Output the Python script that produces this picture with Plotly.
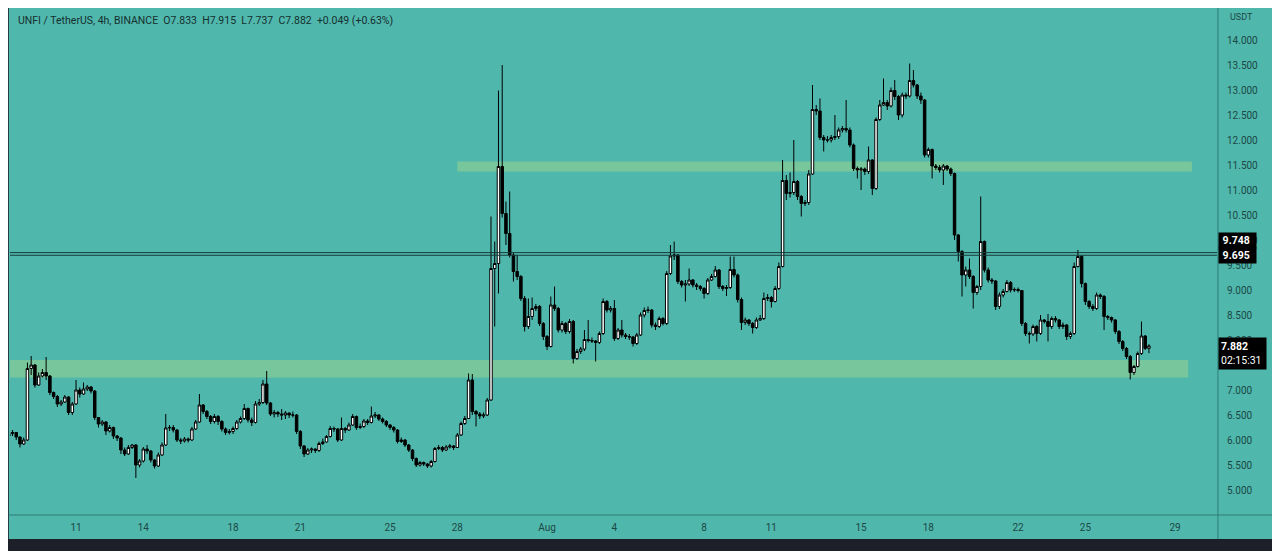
import pandas as pd
import plotly.graph_objects as go

# UNFI/USDT 4h candles, Jul 8 -> Aug 27
start = "2021-07-08 00:00"

opens = [
    6.08, 6.13, 6.15, 6.06, 5.92, 6.00, 7.43, 7.50, 7.10, 7.28, 7.35, 7.28,
    6.95, 6.87, 6.72, 6.76, 6.86, 6.55, 6.72, 7.00, 6.92, 7.02, 7.06, 6.98,
    6.45, 6.32, 6.36, 6.18, 6.25, 6.08, 6.04, 5.80, 5.72, 5.85, 5.90, 5.50,
    5.58, 5.82, 5.78, 5.60, 5.48, 5.70, 5.90, 6.24, 6.25, 6.20, 6.00, 5.98,
    6.02, 6.00, 6.22, 6.36, 6.70, 6.57, 6.47, 6.37, 6.47, 6.37, 6.22, 6.15,
    6.17, 6.23, 6.36, 6.43, 6.63, 6.40, 6.35, 6.72, 6.75, 7.12, 6.74, 6.52,
    6.55, 6.52, 6.50, 6.54, 6.50, 6.50, 6.17, 5.88, 5.72, 5.80, 5.82, 5.79,
    5.93, 5.96, 6.07, 6.23, 6.22, 6.00, 6.23, 6.20, 6.30, 6.47, 6.25, 6.27,
    6.38, 6.35, 6.48, 6.50, 6.42, 6.37, 6.30, 6.25, 6.20, 5.97, 6.00, 5.90,
    5.80, 5.63, 5.50, 5.55, 5.52, 5.48, 5.57, 5.83, 5.85, 5.80, 5.86, 5.88,
    5.85, 6.10, 6.33, 6.43, 7.20, 6.57, 6.52, 6.48, 6.50, 6.80, 9.43, 9.53,
    11.47, 10.53, 10.13, 9.70, 9.37, 9.27, 8.83, 8.27, 8.47, 8.63, 8.67, 8.33,
    8.07, 7.87, 8.70, 8.63, 8.20, 8.33, 8.17, 8.37, 7.63, 7.77, 7.82, 8.01,
    7.99, 7.98, 7.95, 8.13, 8.77, 8.60, 8.63, 8.03, 8.20, 8.10, 8.07, 8.06,
    7.93, 8.10, 8.50, 8.59, 8.60, 8.30, 8.27, 8.43, 8.33, 9.33, 9.68, 9.70,
    9.17, 9.10, 9.12, 9.20, 9.10, 9.07, 9.03, 8.93, 9.20, 9.27, 9.40, 9.07,
    9.03, 9.05, 9.41, 9.30, 8.81, 8.35, 8.40, 8.33, 8.25, 8.40, 8.43, 8.83,
    8.85, 8.77, 9.03, 9.47, 11.19, 10.93, 10.95, 11.17, 10.87, 10.73, 10.75, 11.32,
    12.61, 12.58, 12.05, 12.00, 12.00, 12.05, 12.07, 12.20, 12.23, 12.20, 11.90, 11.43,
    11.40, 11.42, 11.37, 11.60, 11.03, 12.41, 12.70, 12.75, 12.68, 12.99, 12.87, 12.50,
    12.90, 12.88, 13.19, 13.10, 12.88, 12.80, 11.70, 11.81, 11.48, 11.45, 11.40, 11.48,
    11.42, 11.33, 10.10, 9.77, 9.30, 9.40, 9.27, 8.95, 9.07, 9.97, 9.40, 9.20,
    9.18, 8.67, 8.90, 8.97, 9.15, 9.00, 9.01, 8.99, 8.33, 8.13, 8.12, 8.27,
    8.13, 8.40, 8.37, 8.27, 8.43, 8.40, 8.27, 8.30, 8.07, 8.13, 9.47, 9.67,
    9.13, 8.77, 8.67, 8.63, 8.90, 8.87, 8.47, 8.45, 8.40, 8.17, 7.97, 7.83,
    7.67, 7.35, 7.47, 7.73, 8.08, 7.833,
]

highs = [
    6.42, 6.20, 6.16, 6.07, 6.05, 7.55, 7.68, 7.52, 7.35, 7.42, 7.66, 7.30,
    6.97, 6.90, 6.80, 6.90, 6.88, 6.76, 7.20, 7.05, 7.15, 7.10, 7.08, 7.00,
    6.46, 6.40, 6.38, 6.30, 6.27, 6.10, 6.06, 5.85, 5.90, 5.92, 5.92, 5.62,
    5.86, 5.90, 5.80, 5.62, 5.75, 5.95, 6.52, 6.30, 6.30, 6.22, 6.04, 6.06,
    6.05, 6.26, 6.40, 6.92, 6.72, 6.60, 6.50, 6.52, 6.50, 6.40, 6.25, 6.22,
    6.27, 6.40, 6.47, 6.72, 6.65, 6.45, 6.78, 6.82, 7.20, 7.38, 6.76, 6.60,
    6.58, 6.62, 6.58, 6.55, 6.57, 6.52, 6.20, 5.90, 5.84, 5.85, 5.83, 5.97,
    6.03, 6.10, 6.28, 6.27, 6.24, 6.45, 6.26, 6.35, 6.52, 6.49, 6.33, 6.42,
    6.42, 6.67, 6.56, 6.52, 6.45, 6.40, 6.32, 6.28, 6.22, 6.05, 6.02, 5.92,
    5.82, 5.65, 5.58, 5.57, 5.54, 5.60, 5.86, 5.90, 5.88, 5.90, 5.92, 5.90,
    6.14, 6.37, 6.48, 7.33, 7.32, 6.60, 6.56, 6.55, 6.84, 10.47, 9.97, 12.99,
    13.50, 10.77, 10.97, 9.75, 9.70, 9.30, 8.88, 8.83, 8.85, 8.72, 8.70, 8.36,
    8.10, 8.87, 9.07, 8.66, 8.38, 8.36, 8.42, 8.40, 7.82, 7.86, 8.20, 8.40,
    8.05, 8.00, 8.17, 8.83, 8.80, 8.68, 8.80, 8.24, 8.40, 8.14, 8.12, 8.08,
    8.14, 8.55, 8.65, 8.67, 8.62, 8.35, 8.47, 8.46, 9.38, 9.90, 9.97, 9.72,
    9.20, 9.20, 9.43, 9.22, 9.14, 9.10, 9.06, 9.24, 9.32, 9.48, 9.42, 9.10,
    9.10, 9.67, 9.67, 9.33, 8.85, 8.45, 8.42, 8.36, 8.45, 8.50, 8.95, 8.92,
    8.88, 9.08, 9.55, 11.60, 11.30, 11.35, 12.00, 11.20, 10.90, 10.80, 11.40, 13.10,
    12.70, 12.83, 12.10, 12.08, 12.10, 12.50, 12.25, 12.28, 12.80, 12.25, 11.93, 11.47,
    11.46, 11.45, 11.87, 11.62, 12.45, 12.80, 13.23, 12.80, 13.05, 13.20, 12.90, 12.95,
    12.95, 13.53, 13.40, 13.12, 12.95, 12.82, 11.85, 11.83, 11.52, 11.50, 11.52, 11.50,
    11.45, 11.35, 10.12, 9.80, 9.47, 9.63, 9.30, 9.10, 10.87, 9.99, 9.45, 9.24,
    9.20, 8.95, 9.02, 9.20, 9.18, 9.05, 9.05, 9.00, 8.36, 8.17, 8.31, 8.30,
    8.50, 8.42, 8.52, 8.47, 8.48, 8.42, 8.35, 8.32, 8.17, 9.55, 9.80, 9.70,
    9.15, 8.80, 8.72, 8.95, 8.93, 8.90, 8.50, 8.47, 8.42, 8.20, 8.00, 7.86,
    7.70, 7.50, 7.77, 8.37, 8.10, 7.915,
]

lows = [
    6.04, 6.08, 6.00, 5.85, 5.90, 5.98, 7.30, 7.05, 7.08, 7.25, 7.20, 6.90,
    6.82, 6.66, 6.68, 6.74, 6.50, 6.50, 6.70, 6.85, 6.90, 6.98, 6.93, 6.40,
    6.25, 6.28, 6.10, 6.15, 6.02, 5.98, 5.72, 5.68, 5.70, 5.82, 5.24, 5.45,
    5.55, 5.72, 5.55, 5.43, 5.46, 5.68, 5.88, 6.18, 6.15, 5.96, 5.92, 5.95,
    5.95, 5.98, 6.20, 6.34, 6.52, 6.42, 6.32, 6.33, 6.30, 6.17, 6.10, 6.11,
    6.12, 6.20, 6.33, 6.40, 6.35, 6.28, 6.33, 6.68, 6.72, 6.70, 6.48, 6.45,
    6.46, 6.40, 6.42, 6.44, 6.45, 6.12, 5.82, 5.66, 5.70, 5.74, 5.74, 5.76,
    5.90, 5.95, 6.05, 6.16, 5.96, 5.98, 6.14, 6.18, 6.28, 6.20, 6.22, 6.24,
    6.30, 6.33, 6.44, 6.38, 6.33, 6.26, 6.20, 6.15, 5.93, 5.94, 5.86, 5.76,
    5.58, 5.46, 5.47, 5.48, 5.44, 5.45, 5.55, 5.80, 5.76, 5.78, 5.83, 5.80,
    5.84, 6.08, 6.30, 6.42, 6.50, 6.27, 6.42, 6.44, 6.48, 6.78, 8.27, 8.93,
    10.45, 9.90, 9.65, 9.17, 9.20, 8.78, 8.17, 8.22, 8.40, 8.58, 8.28, 8.00,
    7.80, 7.85, 8.58, 8.15, 8.15, 8.12, 8.13, 7.53, 7.60, 7.72, 7.78, 7.95,
    7.94, 7.57, 7.92, 8.10, 8.55, 8.55, 7.98, 8.00, 8.05, 8.02, 8.00, 7.87,
    7.90, 8.08, 8.45, 8.54, 8.25, 8.20, 8.24, 8.29, 8.30, 9.30, 9.60, 9.12,
    9.05, 8.77, 9.08, 9.05, 9.00, 8.98, 8.83, 8.90, 9.18, 9.25, 9.02, 8.98,
    8.88, 9.02, 9.25, 8.75, 8.20, 8.30, 8.28, 8.13, 8.22, 8.38, 8.40, 8.78,
    8.65, 8.75, 9.00, 9.45, 10.80, 10.85, 10.90, 10.80, 10.47, 10.68, 10.70, 11.30,
    12.50, 12.00, 11.77, 11.95, 11.95, 12.00, 12.02, 12.15, 12.15, 11.85, 11.38, 11.23,
    11.00, 11.30, 11.32, 10.90, 11.00, 12.38, 12.68, 12.60, 12.65, 12.80, 12.40, 12.45,
    12.82, 12.85, 13.05, 12.82, 12.72, 11.65, 11.65, 11.23, 11.40, 11.35, 11.10, 11.38,
    11.28, 10.00, 9.57, 8.87, 9.07, 9.22, 8.63, 8.90, 9.00, 9.35, 9.15, 9.12,
    8.60, 8.62, 8.85, 8.95, 8.95, 8.96, 8.95, 8.28, 8.08, 7.93, 8.08, 7.97,
    8.10, 8.33, 7.97, 8.22, 8.35, 8.22, 8.22, 8.00, 8.02, 8.10, 9.45, 9.05,
    8.70, 8.62, 8.58, 8.60, 8.82, 8.20, 8.40, 8.35, 8.12, 7.92, 7.78, 7.62,
    7.21, 7.30, 7.45, 7.70, 7.80, 7.737,
]

closes = [
    6.13, 6.15, 6.06, 5.92, 6.00, 7.43, 7.50, 7.10, 7.28, 7.35, 7.28, 6.95,
    6.87, 6.72, 6.76, 6.86, 6.55, 6.72, 7.00, 6.92, 7.02, 7.06, 6.98, 6.45,
    6.32, 6.36, 6.18, 6.25, 6.08, 6.04, 5.80, 5.72, 5.85, 5.90, 5.50, 5.58,
    5.82, 5.78, 5.60, 5.48, 5.70, 5.90, 6.24, 6.25, 6.20, 6.00, 5.98, 6.02,
    6.00, 6.22, 6.36, 6.70, 6.57, 6.47, 6.37, 6.47, 6.37, 6.22, 6.15, 6.17,
    6.23, 6.36, 6.43, 6.63, 6.40, 6.35, 6.72, 6.75, 7.12, 6.74, 6.52, 6.55,
    6.52, 6.50, 6.54, 6.50, 6.50, 6.17, 5.88, 5.72, 5.80, 5.82, 5.79, 5.93,
    5.96, 6.07, 6.23, 6.22, 6.00, 6.23, 6.20, 6.30, 6.47, 6.25, 6.27, 6.38,
    6.35, 6.48, 6.50, 6.42, 6.37, 6.30, 6.25, 6.20, 5.97, 6.00, 5.90, 5.80,
    5.63, 5.50, 5.55, 5.52, 5.48, 5.57, 5.83, 5.85, 5.80, 5.86, 5.88, 5.85,
    6.10, 6.33, 6.43, 7.20, 6.57, 6.52, 6.48, 6.50, 6.80, 9.43, 9.53, 11.47,
    10.53, 10.13, 9.70, 9.37, 9.27, 8.83, 8.27, 8.47, 8.63, 8.67, 8.33, 8.07,
    7.87, 8.70, 8.63, 8.20, 8.33, 8.17, 8.37, 7.63, 7.77, 7.82, 8.01, 7.99,
    7.98, 7.95, 8.13, 8.77, 8.60, 8.63, 8.03, 8.20, 8.10, 8.07, 8.06, 7.93,
    8.10, 8.50, 8.59, 8.60, 8.30, 8.27, 8.43, 8.33, 9.33, 9.68, 9.70, 9.17,
    9.10, 9.12, 9.20, 9.10, 9.07, 9.03, 8.93, 9.20, 9.27, 9.40, 9.07, 9.03,
    9.05, 9.41, 9.30, 8.81, 8.35, 8.40, 8.33, 8.25, 8.40, 8.43, 8.83, 8.85,
    8.77, 9.03, 9.47, 11.19, 10.93, 10.95, 11.17, 10.87, 10.73, 10.75, 11.32, 12.61,
    12.58, 12.05, 12.00, 12.00, 12.05, 12.07, 12.20, 12.23, 12.20, 11.90, 11.43, 11.40,
    11.42, 11.37, 11.60, 11.03, 12.41, 12.70, 12.75, 12.68, 12.99, 12.87, 12.50, 12.90,
    12.88, 13.19, 13.10, 12.88, 12.80, 11.70, 11.81, 11.48, 11.45, 11.40, 11.48, 11.42,
    11.33, 10.10, 9.77, 9.30, 9.40, 9.27, 8.95, 9.07, 9.97, 9.40, 9.20, 9.18,
    8.67, 8.90, 8.97, 9.15, 9.00, 9.01, 8.99, 8.33, 8.13, 8.12, 8.27, 8.13,
    8.40, 8.37, 8.27, 8.43, 8.40, 8.27, 8.30, 8.07, 8.13, 9.47, 9.67, 9.13,
    8.77, 8.67, 8.63, 8.90, 8.87, 8.47, 8.45, 8.40, 8.17, 7.97, 7.83, 7.67,
    7.35, 7.47, 7.73, 8.08, 7.833, 7.882,
]

tick_dates = ["2021-07-11", "2021-07-14", "2021-07-18", "2021-07-21", "2021-07-25",
              "2021-07-28", "2021-08-01", "2021-08-04", "2021-08-08", "2021-08-11",
              "2021-08-15", "2021-08-18", "2021-08-22", "2021-08-25", "2021-08-29"]
tick_text = ["11", "14", "18", "21", "25", "28", "Aug", "4", "8", "11",
             "15", "18", "22", "25", "29"]
price_ticks = [5.0, 5.5, 6.0, 6.5, 7.0, 7.5, 8.0, 8.5, 9.0, 9.5,
               10.0, 10.5, 11.0, 11.5, 12.0, 12.5, 13.0, 13.5, 14.0]

# horizontal levels and zones drawn on the chart
levels = [9.748, 9.695]
upper_zone = ["2021-07-28 00:00", "2021-08-29 18:00", 11.37, 11.57]
lower_zone = ["2021-07-08 01:20", "2021-08-29 14:00", 7.25, 7.60]

times = pd.date_range(start, periods=len(closes), freq="4h")

TEAL = "#50b7ad"
DARK = "#1e2029"
AXIS = "#2d7e77"
TXT = "#1b4844"
ZONE = "#78c69b"

fig = go.Figure(go.Candlestick(
    x=times, open=opens, high=highs, low=lows, close=closes,
    increasing=dict(line=dict(color="#000000", width=1), fillcolor="#ffffff"),
    decreasing=dict(line=dict(color="#000000", width=1), fillcolor="#000000"),
    whiskerwidth=0, showlegend=False, hoverinfo="skip",
))

# page adds an 8px offset, so the plot box is placed 8px up/left of target
shapes = [
    # teal panel behind plot + both axes
    dict(type="rect", xref="paper", yref="paper", x0=-0.001, x1=1.0456,
         y0=-0.0473, y1=1.002, fillcolor=TEAL, line_width=0, layer="below"),
    dict(type="rect", xref="x", yref="y", x0=upper_zone[0], x1=upper_zone[1],
         y0=upper_zone[2], y1=upper_zone[3], fillcolor=ZONE, line_width=0, layer="below"),
    dict(type="rect", xref="x", yref="y", x0=lower_zone[0], x1=lower_zone[1],
         y0=lower_zone[2], y1=lower_zone[3], fillcolor=ZONE, line_width=0, layer="below"),
    dict(type="line", xref="paper", yref="paper", x0=-0.001, x1=1.0456, y0=0, y1=0,
         line=dict(color=AXIS, width=1)),
    dict(type="line", xref="paper", yref="paper", x0=1.0008, x1=1.0008, y0=-0.0473, y1=1.002,
         line=dict(color=AXIS, width=1)),
]
for lv in levels:
    shapes.append(dict(type="line", xref="paper", yref="y", x0=0, x1=1, y0=lv, y1=lv,
                       line=dict(color="#173b38", width=1)))

font = "Roboto, 'DejaVu Sans', sans-serif"
sp = "\u00a0"
annotations = [
    dict(text=f"UNFI / TetherUS, 4h, BINANCE{sp*2}O7.833{sp*2}H7.915{sp*2}"
              f"L7.737{sp*2}C7.882{sp*2}+0.049 (+0.63%)",
         xref="paper", yref="paper", x=0.005, y=0.976, xanchor="left", yanchor="middle",
         showarrow=False, font=dict(size=10.5, color="#15302d", family=font)),
    dict(text="USDT", xref="paper", yref="paper", x=1.0091, y=0.982, xanchor="left",
         yanchor="middle", showarrow=False, font=dict(size=9, color=TXT, family=font)),
    dict(text=f"{sp}<b>9.748</b>{sp}{sp}", xref="paper", yref="y", x=1.0008, y=levels[0],
         yshift=12, xanchor="left", yanchor="middle", showarrow=False, bgcolor="#000000",
         borderpad=1, font=dict(size=10.5, color="#ffffff", family=font)),
    dict(text=f"{sp}<b>9.695</b>{sp}{sp}", xref="paper", yref="y", x=1.0008, y=levels[1],
         yshift=0, xanchor="left", yanchor="middle", showarrow=False, bgcolor="#000000",
         borderpad=1, font=dict(size=10.5, color="#ffffff", family=font)),
    dict(text=f"<b>7.882</b><br>02:15:31{sp}", xref="paper", yref="y", x=1.0008,
         y=closes[-1], yshift=-8, xanchor="left", yanchor="middle", align="left",
         showarrow=False, bgcolor="#000000", borderpad=2,
         font=dict(size=10.5, color="#ffffff", family=font)),
]

fig.update_layout(
    width=1280, height=551,
    margin=dict(l=2, r=71, t=0, b=44),
    paper_bgcolor=DARK, plot_bgcolor=TEAL,
    boxgap=0.05,
    shapes=shapes, annotations=annotations,
    font=dict(family=font, size=10, color=TXT),
    xaxis=dict(
        type="date", range=["2021-07-08 01:20", "2021-08-30 20:50"],
        rangeslider=dict(visible=False), showgrid=False, zeroline=False,
        tickvals=tick_dates, ticktext=tick_text, ticks="", ticklabelstandoff=5,
        tickfont=dict(size=10, color=TXT), showline=False,
    ),
    yaxis=dict(
        side="right", range=[4.5, 14.64], showgrid=False, zeroline=False,
        tickvals=price_ticks, tickformat=".3f", ticks="", ticklabelstandoff=9,
        tickfont=dict(size=10, color=TXT), showline=False,
    ),
)

fig.write_html("out.html")
